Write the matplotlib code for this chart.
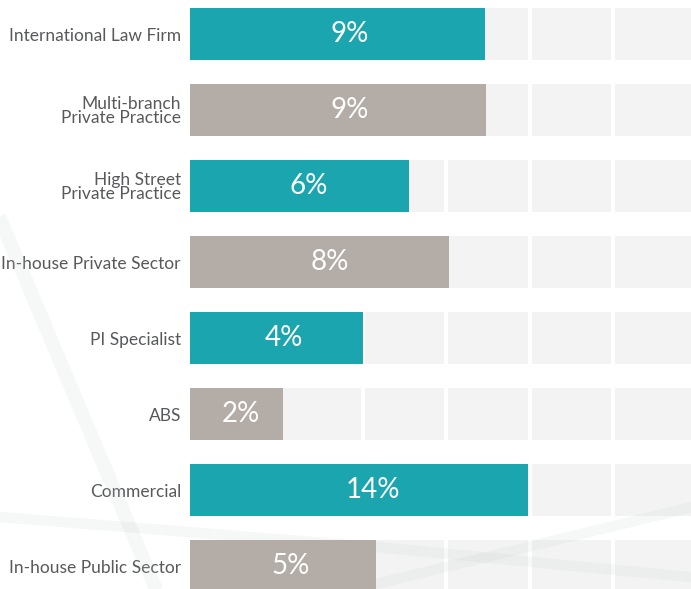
#!/usr/bin/env python3
"""Share of respondents by practice type: horizontal bars over a grey cell grid."""
import matplotlib
matplotlib.use("Agg")
import matplotlib.pyplot as plt
from matplotlib.lines import Line2D

plt.rcParams.update({"font.family": ["Lato", "DejaVu Sans"]})

# ---------------------------------------------------------------- data
categories = [
    "International Law Firm",
    "Multi-branch\nPrivate Practice",
    "High Street\nPrivate Practice",
    "In-house Private Sector",
    "PI Specialist",
    "ABS",
    "Commercial",
    "In-house Public Sector",
]
pct_labels = ["9%", "9%", "6%", "8%", "4%", "2%", "14%", "5%"]
# drawn bar lengths, in grid-cell units
bar_len = [3.54, 3.55, 2.63, 3.11, 2.08, 1.12, 4.06, 2.23]
colour_keys = ["teal", "taupe", "teal", "taupe", "teal", "taupe", "teal", "taupe"]

TEAL = "#1ba6af"
TAUPE = "#b4aca6"
CELL = "#f3f3f3"
TEXT = "#58595b"
colours = {"teal": TEAL, "taupe": TAUPE}

W, H = 691, 589
fig = plt.figure(figsize=(W / 100, H / 100), dpi=100)

# pixel-space helper axes for the decorative strokes
bg = fig.add_axes([0, 0, 1, 1], zorder=0)
bg.set_xlim(0, W)
bg.set_ylim(H, 0)
bg.axis("off")

ax = fig.add_axes([190 / W, 0, 1 - 190 / W, 1], zorder=1)
ax.patch.set_alpha(0)

n = len(categories)
y = list(range(n))
xmax = 501 / 83.33
row_h = 52 / 76

# grey cell grid behind every row
seps = [1.08, 2.08, 3.07, 4.08, 5.08]
edges = [0] + seps + [xmax + 0.1]
gap = 4 / 83.33
for i in y:
    for k in range(len(edges) - 1):
        l = edges[k] + (gap / 2 if k else 0)
        r = edges[k + 1] - gap / 2
        ax.barh(i, r - l, left=l, height=row_h, color=CELL, zorder=1)

# strokes sit over the cells but under the bars
stroke_kw = dict(color="#c8cece", alpha=0.16, solid_capstyle="butt", zorder=2,
                 transform=bg.transData, clip_on=False)
for xs, ys, lw in [([-10, 190], [195, 670], 10),
                   ([0, 376, 700], [517, 547, 578], 7.5),
                   ([200, 700], [627, 505], 7.5)]:
    ax.add_line(Line2D(xs, ys, lw=lw, **stroke_kw))

ax.barh(y, bar_len, height=row_h, color=[colours[c] for c in colour_keys], zorder=3)
for i, (v, lab) in enumerate(zip(bar_len, pct_labels)):
    ax.text(v * 0.54, i, lab, ha="center", va="center", color="white",
            fontsize=20, zorder=4)

ax.set_xlim(0, xmax)
ax.set_ylim(n - 1 + 23 / 76, -34 / 76)
ax.set_yticks(y)
ax.set_yticklabels(categories, fontsize=12.5, color=TEXT)
for t in ax.get_yticklabels():
    t.set_linespacing(0.88)
ax.tick_params(axis="y", length=0, pad=6.5)
ax.set_xticks([])
for s in ax.spines.values():
    s.set_visible(False)

fig.savefig("out.png", dpi=100)
